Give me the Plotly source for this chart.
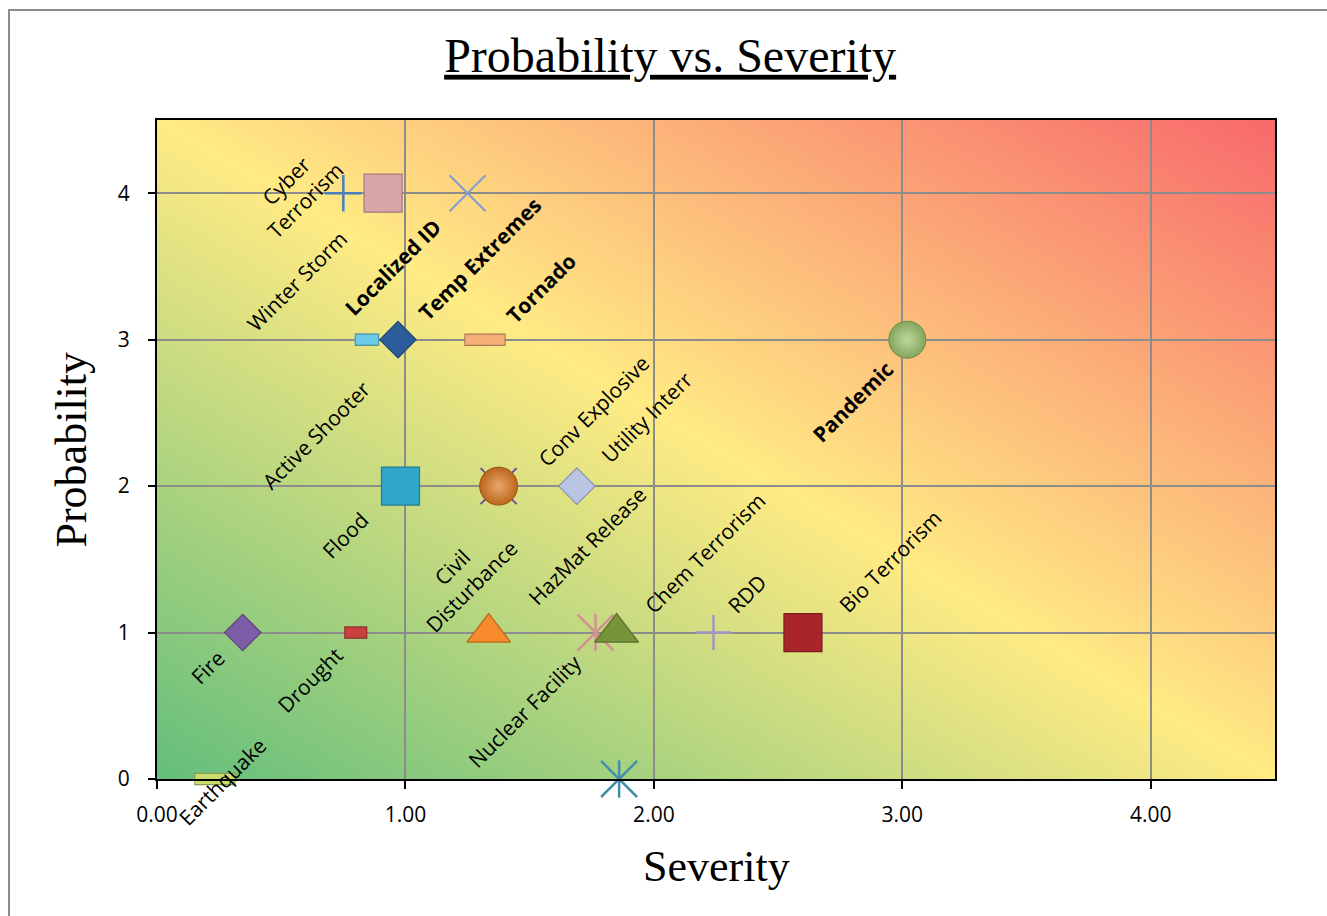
import base64
import plotly.graph_objects as go

# ---------------- data ----------------
hazards = ["Cyber<br>Terrorism", "Winter Storm", "Temp Extremes", "Localized ID", "Active Shooter",
           "Tornado", "Pandemic", "Flood", "Civil<br>Disturbance", "Conv Explosive",
           "Utility Interr", "Fire", "Drought", "HazMat Release", "Nuclear Facility",
           "Chem Terrorism", "RDD", "Bio Terrorism", "Earthquake", ""]
severity = [0.75, 0.91, 1.25, 0.845, 0.97,
            1.32, 3.02, 0.98, 1.375, 1.375,
            1.69, 0.345, 0.80, 1.335, 1.765,
            1.85, 2.24, 2.60, 0.233, 1.86]
probability = [4, 4, 4, 3, 3,
               3, 3, 2, 2, 2,
               2, 1, 1, 1, 1,
               1, 1, 1, 0, 0]
bold_labels = ["Temp Extremes", "Localized ID", "Tornado", "Pandemic"]
x_ticks = [0, 1, 2, 3, 4]
y_ticks = [0, 1, 2, 3, 4]

# ---------------- styles ----------------
symbols = ["cross-thin-open", "square", "x-thin-open", "line-ew", "diamond",
           "line-ew", "circle", "square", "x-thin-open", "circle",
           "diamond", "diamond", "line-ew", "triangle-up", "star6",
           "triangle-up", "cross-thin-open", "square", "line-ew", "star6"]
colors = ["#4a7ebb", "#d9a5a8", "#7f9fcf", "#6ccbe8", "#2c5d9a",
          "#f5ae78", "#9cc46c", "#2ea7c9", "#6b4f9e", "#de7820",
          "#b9c5e2", "#7d5ca8", "#c9413f", "#f78a2a", "#d58f92",
          "#77933c", "#a595c3", "#a8262a", "#c9dc6e", "#3f8fa8"]
sizes = [26, 38, 36, 16, 28,
         28, 37, 38, 36, 38,
         28, 28, 15, 38, 36,
         38, 25, 38, 28, 36]
line_w = [2.5, 1, 2, 10, 1,
          10, 1, 1, 2, 1,
          1, 1, 10, 1, 2.5,
          1, 2.5, 1, 10, 2.5]
label_offsets = [(-48, -3), (-86, 88), (12, 66), (26, -73), (-82, 95),
                 (56, -52), (-55, 62), (-55, 49), (-37, 90), (95, -75),
                 (70, -69), (-35, 34), (-46, 47), (98, -87), (-71, 78),
                 (88, -80), (33, -39), (87, -72), (8, 2), (0, 0)]

LABEL_FONT = "Open Sans"
SERIF = "Liberation Serif"


def darker(hexc, f=0.72):
    h = hexc.lstrip("#")
    r, g, b = (int(h[i:i + 2], 16) for i in (0, 2, 4))
    return "rgb(%d,%d,%d)" % (r * f, g * f, b * f)


def lighter(hexc, f=0.55):
    h = hexc.lstrip("#")
    r, g, b = (int(h[i:i + 2], 16) for i in (0, 2, 4))
    return "rgb(%d,%d,%d)" % (r + (255 - r) * f, g + (255 - g) * f, b + (255 - b) * f)


fig = go.Figure()

for i in range(len(severity)):
    sym = symbols[i]
    c = colors[i]
    xs, ys = [severity[i]], [probability[i]]
    if sym == "star6":
        # Excel-style star: an X plus a vertical stroke
        fig.add_trace(go.Scatter(
            x=xs, y=ys, mode="markers", hoverinfo="skip", cliponaxis=False,
            marker=dict(symbol="x-thin-open", size=sizes[i],
                        line=dict(color=c, width=line_w[i]), color=c)))
        fig.add_trace(go.Scatter(
            x=xs, y=ys, mode="markers", hoverinfo="skip", cliponaxis=False,
            marker=dict(symbol="line-ns-open", size=sizes[i] * 0.74,
                        line=dict(color=c, width=line_w[i]), color=c)))
        continue
    if sym == "line-ew":
        # small flat bar: darker outline underneath, lighter face on top
        fig.add_trace(go.Scatter(
            x=xs, y=ys, mode="markers", hoverinfo="skip", cliponaxis=False,
            marker=dict(symbol="line-ew", size=sizes[i] + 1.5, color=darker(c, 0.7),
                        line=dict(color=darker(c, 0.7), width=line_w[i] + 2.5))))
        marker = dict(symbol=sym, size=sizes[i], color=c,
                      line=dict(color=c, width=line_w[i]))
    elif sym in ("cross-thin-open", "x-thin-open"):
        marker = dict(symbol=sym, size=sizes[i], color=c,
                      line=dict(color=c, width=line_w[i]))
    elif sym == "circle":
        marker = dict(symbol=sym, size=sizes[i], color=darker(c, 0.85),
                      gradient=dict(type="radial", color=lighter(c, 0.35)),
                      line=dict(color=darker(c, 0.7), width=1))
    else:
        marker = dict(symbol=sym, size=sizes[i], color=c,
                      line=dict(color=darker(c, 0.75), width=1.2))
    fig.add_trace(go.Scatter(x=xs, y=ys, mode="markers",
                             marker=marker, hoverinfo="skip", name=hazards[i],
                             cliponaxis=False))

# data labels
for i, name in enumerate(hazards):
    if not name:
        continue
    dx, dy = label_offsets[i]
    txt = "<b>%s</b>" % name if name in bold_labels else name
    fig.add_annotation(x=severity[i], y=probability[i], xref="x", yref="y",
                       text=txt, showarrow=False, textangle=-45,
                       xshift=dx, yshift=-dy, xanchor="center", yanchor="middle",
                       font=dict(family=LABEL_FONT, size=21, color="black"))

# gradient background of the plot area
svg = ("<svg xmlns='http://www.w3.org/2000/svg' width='100' height='100' viewBox='0 0 100 100' "
       "preserveAspectRatio='none'><defs><linearGradient id='g' x1='0' y1='1' x2='1' y2='0'>"
       "<stop offset='0' stop-color='#63BE7B'/><stop offset='0.5' stop-color='#FFEB84'/>"
       "<stop offset='1' stop-color='#F8696B'/></linearGradient></defs>"
       "<rect width='100' height='100' fill='url(#g)'/></svg>")
src = "data:image/svg+xml;base64," + base64.b64encode(svg.encode()).decode()
fig.add_layout_image(dict(source=src, xref="x", yref="y", x=0, y=4.5, sizex=4.5, sizey=4.5,
                          sizing="stretch", layer="below", xanchor="left", yanchor="top"))

axis_common = dict(range=[0, 4.5], showgrid=True, gridcolor="#8c8c8c", gridwidth=1.5,
                   showline=True, linecolor="black", linewidth=2, mirror=True,
                   ticks="outside", tickcolor="black", tickwidth=2, zeroline=False,
                   tickfont=dict(family=LABEL_FONT, size=21, color="black"))

fig.update_layout(
    width=1327, height=916,
    margin=dict(l=157, r=52, t=120, b=137),
    paper_bgcolor="white", plot_bgcolor="white",
    showlegend=False,
    title=dict(text="<u>Probability vs. Severity</u>", x=0.505, xref="container",
               y=1 - 55 / 916, yref="container", xanchor="center", yanchor="middle",
               font=dict(family=SERIF, size=48, color="black")),
    xaxis=dict(axis_common, tickvals=x_ticks, tickformat=".2f", ticklen=8,
               ticklabelstandoff=8),
    yaxis=dict(axis_common, tickvals=y_ticks, tickformat="d", ticklen=7,
               ticklabelstandoff=14),
)

# axis titles
fig.add_annotation(text="Severity", xref="paper", yref="paper", x=0.5, y=(779 - 866) / 659,
                   showarrow=False, xanchor="center", yanchor="middle",
                   font=dict(family=SERIF, size=44, color="black"))
fig.add_annotation(text="Probability", xref="paper", yref="paper", x=(71 - 157) / 1118, y=0.5,
                   showarrow=False, xanchor="center", yanchor="middle", textangle=-90,
                   font=dict(family=SERIF, size=44, color="black"))

# chart-area border
fig.add_shape(type="rect", xref="paper", yref="paper",
              x0=(9 - 157) / 1118, x1=(1345 - 157) / 1118,
              y0=(779 - 940) / 659, y1=(779 - 10) / 659,
              line=dict(color="#8c8c8c", width=2), fillcolor="rgba(0,0,0,0)", layer="below")

fig.write_html("out.html")
